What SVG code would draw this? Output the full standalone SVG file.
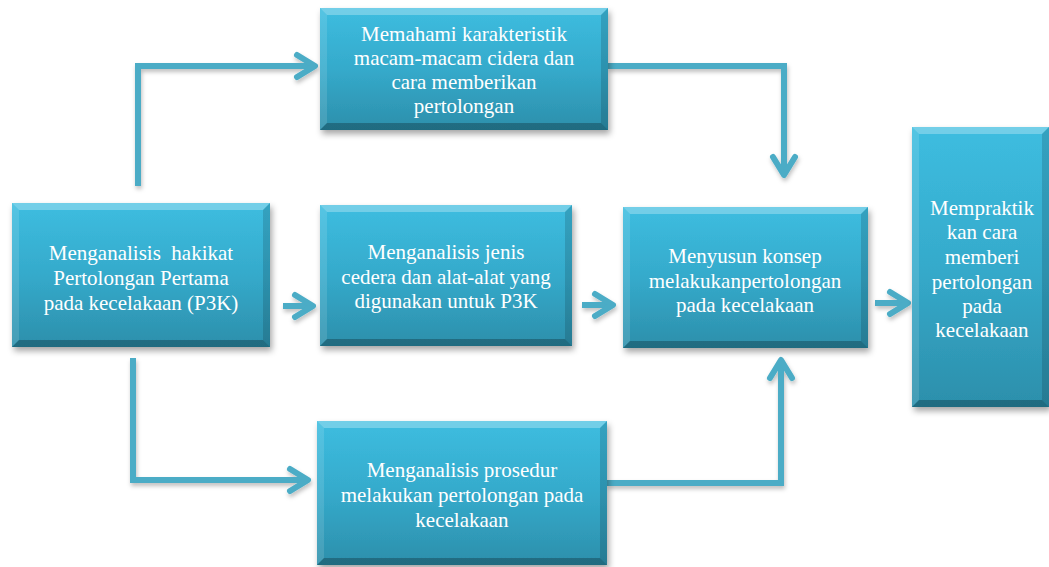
<svg xmlns="http://www.w3.org/2000/svg" width="1049" height="567" viewBox="0 0 1049 567">
<defs>
<linearGradient id="boxg" x1="0" y1="0" x2="0" y2="1">
<stop offset="0" stop-color="#3DBDE0"/>
<stop offset="0.5" stop-color="#35AACB"/>
<stop offset="1" stop-color="#2C8FAB"/>
</linearGradient>
<filter id="sh" x="-10%" y="-10%" width="130%" height="130%">
<feDropShadow dx="2" dy="4" stdDeviation="3" flood-color="#000" flood-opacity="0.35"/>
</filter>
<filter id="lsh" x="-20%" y="-20%" width="140%" height="140%">
<feDropShadow dx="1" dy="3" stdDeviation="2" flood-color="#000" flood-opacity="0.25"/>
</filter>
<marker id="arr" markerUnits="userSpaceOnUse" orient="auto" refX="0" refY="0" markerWidth="40" markerHeight="40" viewBox="-25 -20 40 40" overflow="visible">
<path d="M-18 -11 L0 0 L-18 11" fill="none" stroke="#4BACC6" stroke-width="6" stroke-linecap="round" stroke-linejoin="round"/>
</marker>
</defs>
<style>
.box{fill:url(#boxg);}
.bt{fill:#ffffff;fill-opacity:0.28;}
.bl{fill:#ffffff;fill-opacity:0.12;}
.br{fill:#000000;fill-opacity:0.14;}
.bb{fill:#000000;fill-opacity:0.25;}
.t{font-family:"Liberation Serif","Times New Roman",serif;font-size:21px;fill:#ffffff;text-anchor:middle;}
.c{fill:none;stroke:#4BACC6;stroke-width:6;stroke-linejoin:miter;marker-end:url(#arr);}
</style>
<rect width="1049" height="567" fill="#ffffff"/>

<g id="connectors" filter="url(#lsh)">
<path class="c" d="M138 186 V66 H315"/>
<path class="c" d="M608 66 H784 V175"/>
<path class="c" d="M133 358 V480 H308"/>
<path class="c" d="M607 483 H781 V360"/>
<path class="c" d="M283 306 H313"/>
<path class="c" d="M582 305 H613"/>
<path class="c" d="M875 303 H908"/>
</g>

<g id="node1">
<g filter="url(#sh)"><rect class="box" x="12" y="203" width="258" height="144"/></g>
<polygon class="bt" points="12,203 270,203 263,210 19,210"/>
<polygon class="bl" points="12,203 19,210 19,340 12,347"/>
<polygon class="br" points="270,203 263,210 263,340 270,347"/>
<polygon class="bb" points="12,347 270,347 263,340 19,340"/>
<text class="t" xml:space="preserve"><tspan x="141" y="260">Menganalisis  hakikat</tspan><tspan x="141" y="285">Pertolongan Pertama</tspan><tspan x="141" y="310">pada kecelakaan (P3K)</tspan></text>
</g>

<g id="node2">
<g filter="url(#sh)"><rect class="box" x="320" y="8" width="288" height="122"/></g>
<polygon class="bt" points="320,8 608,8 601,15 327,15"/>
<polygon class="bl" points="320,8 327,15 327,123 320,130"/>
<polygon class="br" points="608,8 601,15 601,123 608,130"/>
<polygon class="bb" points="320,130 608,130 601,123 327,123"/>
<text class="t"><tspan x="464" y="41">Memahami karakteristik</tspan><tspan x="464" y="65">macam-macam cidera dan</tspan><tspan x="464" y="89">cara memberikan</tspan><tspan x="464" y="113">pertolongan</tspan></text>
</g>

<g id="node3">
<g filter="url(#sh)"><rect class="box" x="320" y="205" width="252" height="141"/></g>
<polygon class="bt" points="320,205 572,205 565,212 327,212"/>
<polygon class="bl" points="320,205 327,212 327,339 320,346"/>
<polygon class="br" points="572,205 565,212 565,339 572,346"/>
<polygon class="bb" points="320,346 572,346 565,339 327,339"/>
<text class="t"><tspan x="446" y="259">Menganalisis jenis</tspan><tspan x="446" y="284">cedera dan alat-alat yang</tspan><tspan x="446" y="308">digunakan untuk P3K</tspan></text>
</g>

<g id="node4">
<g filter="url(#sh)"><rect class="box" x="623" y="207" width="245" height="141"/></g>
<polygon class="bt" points="623,207 868,207 861,214 630,214"/>
<polygon class="bl" points="623,207 630,214 630,341 623,348"/>
<polygon class="br" points="868,207 861,214 861,341 868,348"/>
<polygon class="bb" points="623,348 868,348 861,341 630,341"/>
<text class="t"><tspan x="745" y="263">Menyusun konsep</tspan><tspan x="745" y="288">melakukanpertolongan</tspan><tspan x="745" y="312">pada kecelakaan</tspan></text>
</g>

<g id="node5">
<g filter="url(#sh)"><rect class="box" x="912" y="127" width="137" height="280"/></g>
<polygon class="bt" points="912,127 1049,127 1042,134 919,134"/>
<polygon class="bl" points="912,127 919,134 919,400 912,407"/>
<polygon class="br" points="1049,127 1042,134 1042,400 1049,407"/>
<polygon class="bb" points="912,407 1049,407 1042,400 919,400"/>
<text class="t"><tspan x="982" y="215">Mempraktik</tspan><tspan x="982" y="239">kan cara</tspan><tspan x="982" y="264">memberi</tspan><tspan x="982" y="289">pertolongan</tspan><tspan x="982" y="313">pada</tspan><tspan x="982" y="337">kecelakaan</tspan></text>
</g>

<g id="node6">
<g filter="url(#sh)"><rect class="box" x="317" y="421" width="290" height="144"/></g>
<polygon class="bt" points="317,421 607,421 600,428 324,428"/>
<polygon class="bl" points="317,421 324,428 324,558 317,565"/>
<polygon class="br" points="607,421 600,428 600,558 607,565"/>
<polygon class="bb" points="317,565 607,565 600,558 324,558"/>
<text class="t"><tspan x="462" y="477">Menganalisis prosedur</tspan><tspan x="462" y="502">melakukan pertolongan pada</tspan><tspan x="462" y="527">kecelakaan</tspan></text>
</g>
</svg>
